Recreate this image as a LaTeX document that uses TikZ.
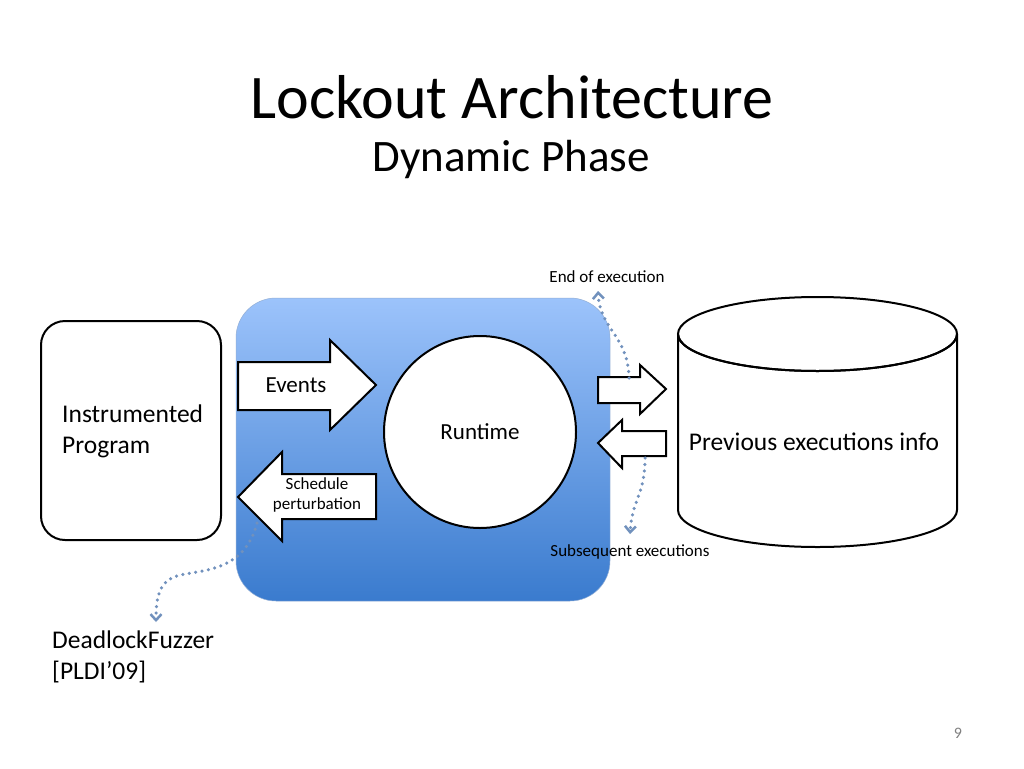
\documentclass[tikz,border=0pt]{standalone}
\usepackage{fontspec}
\setmainfont{Carlito}
\usetikzlibrary{arrows.meta,shapes.geometric}
\definecolor{boxtop}{HTML}{9CC3FB}
\definecolor{boxbot}{HTML}{3A7BCE}
\definecolor{dotc}{HTML}{7191BD}
\tikzset{
  blk/.style={draw=black,line width=2pt,fill=white,line join=miter},
  note/.style={font=\fontsize{17}{20}\selectfont,inner sep=0pt},
  lab/.style={font=\fontsize{25.5}{31}\selectfont,inner sep=0pt,align=left},
  dots/.style={dotc,line width=3.5pt,dash pattern=on 0pt off 6.5pt,line cap=round,
    -{Straight Barb[length=6pt,width=11pt,line width=2.5pt]}}
}
\begin{document}
\begin{tikzpicture}[x=1pt,y=-1pt]
\fill[white] (0,0) rectangle (1024,768);
% Title
\node[font=\fontsize{62}{70}\selectfont] (title) at (512,97) {Lockout Architecture};
\node[font=\fontsize{45}{52}\selectfont] (sub) at (511,160) {Dynamic Phase};
% Instrumented program
\draw[line width=2pt,rounded corners=24pt] (41,321) rectangle (221,540);
\node[lab,anchor=west] (prog) at (62,431) {Instrumented\\Program};
% Runtime box
\shade[top color=boxtop,bottom color=boxbot,rounded corners=40pt,draw=boxtop!70!gray,line width=0.5pt]
  (236,298) rectangle (610,601);
\node[draw,line width=2pt,fill=white,circle,minimum size=192pt,inner sep=0pt] (rt) at (480,432) {};
\node[font=\fontsize{23}{27}\selectfont] (rtl) at (480,432) {Runtime};
% Events arrow
\draw[blk] (238,362) -- (330,362) -- (330,340) -- (376,385) -- (330,430) -- (330,410) -- (238,410) -- cycle;
\node[font=\fontsize{23}{27}\selectfont] (ev) at (296,385) {Events};
% Schedule perturbation arrow
\draw[blk] (376,474) -- (282,474) -- (282,452) -- (238,497) -- (282,541) -- (282,519) -- (376,519) -- cycle;
\node[font=\fontsize{17}{20.5}\selectfont,align=center] (sp) at (317,495) {Schedule\\perturbation};
% Arrows to and from the store
\draw[blk] (598,377) -- (640,377) -- (640,365) -- (666,389) -- (640,414) -- (640,403) -- (598,403) -- cycle;
\draw[blk] (666,431) -- (622,431) -- (622,420) -- (598,443) -- (622,468) -- (622,456) -- (666,456) -- cycle;
% Cylinder
\draw[line width=2pt,fill=white] (678,334) -- (678,510) arc[start angle=180,end angle=360,x radius=139.5pt,y radius=37pt]
  -- (957,334) arc[start angle=0,end angle=-180,x radius=139.5pt,y radius=37pt];
\draw[line width=2pt] (817.5,334) ellipse[x radius=139.5pt,y radius=37pt];
\node[lab] (info) at (814,442) {Previous executions info};
% Notes and dotted arrows
\node[note] (end) at (607,277) {End of execution};
\node[note] (subs) at (630,552) {Subsequent executions};
\node[lab,anchor=north west] (df) at (52,631) {DeadlockFuzzer\\{[}PLDI’09{]}};
\coordinate (a1) at (629,378);
\coordinate (a2) at (645,458);
\coordinate (a3) at (257,523);
\draw[dots] (a1) .. controls (628,335) and (600,330) .. (598,291);
\draw[dots] (a2) .. controls (645,495) and (632,500) .. (630,534);
\draw[dots] (a3) .. controls (245,570) and (205,570) .. (180,575) .. controls (160,580) and (156,595) .. (156,622);
% Page number
\node[font=\fontsize{16}{18}\selectfont,text=gray] (pg) at (958,733) {9};
\end{tikzpicture}
\end{document}
